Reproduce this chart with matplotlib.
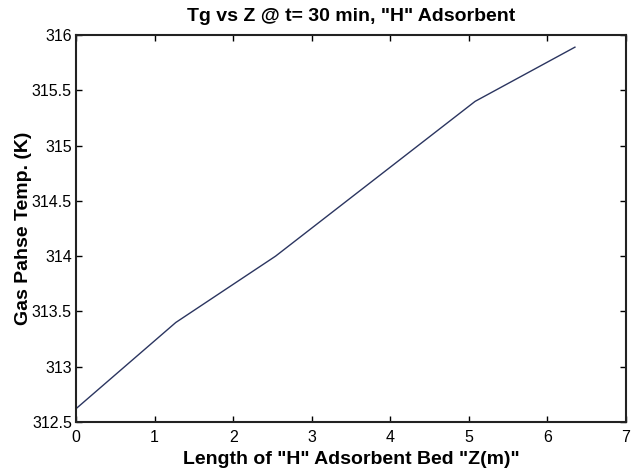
import matplotlib
matplotlib.use("Agg")
import matplotlib.pyplot as plt

z = [0.0, 1.27, 2.54, 3.81, 5.08, 6.35]
tg = [312.62, 313.40, 314.00, 314.70, 315.40, 315.89]
xticks = [0, 1, 2, 3, 4, 5, 6, 7]
yticks = [312.5, 313, 313.5, 314, 314.5, 315, 315.5, 316]
ytick_labels = ["312.5", "313", "313.5", "314", "314.5", "315", "315.5", "316"]

plt.rcParams['font.family'] = ['Liberation Sans', 'DejaVu Sans']

fig = plt.figure(figsize=(6.38, 4.69), dpi=100)
ax = fig.add_axes([76/638, 1 - 422/469, 550/638, 387/469])
ax.plot(z, tg, color='#2b3560', linewidth=1.0)
ax.set_xlim(0, 7)
ax.set_ylim(312.5, 316)
ax.set_xticks(xticks)
ax.set_yticks(yticks)
ax.set_yticklabels(ytick_labels)
ax.tick_params(direction='in', top=True, right=True, length=4, width=1, labelsize=11.5)
ax.tick_params(axis='x', pad=6)
ax.tick_params(axis='y', pad=3)
for s in ax.spines.values():
    s.set_linewidth(1.5)
    s.set_color('#222222')
ax.set_title('Tg vs Z @ t= 30 min, "H" Adsorbent', fontsize=14, fontweight='bold', pad=10)
ax.set_xlabel('Length of "H" Adsorbent Bed "Z(m)"', fontsize=14, fontweight='bold', labelpad=4)
ax.set_ylabel('Gas Pahse Temp. (K)', fontsize=14, fontweight='bold', labelpad=0)
fig.savefig('out.png', dpi=100)
